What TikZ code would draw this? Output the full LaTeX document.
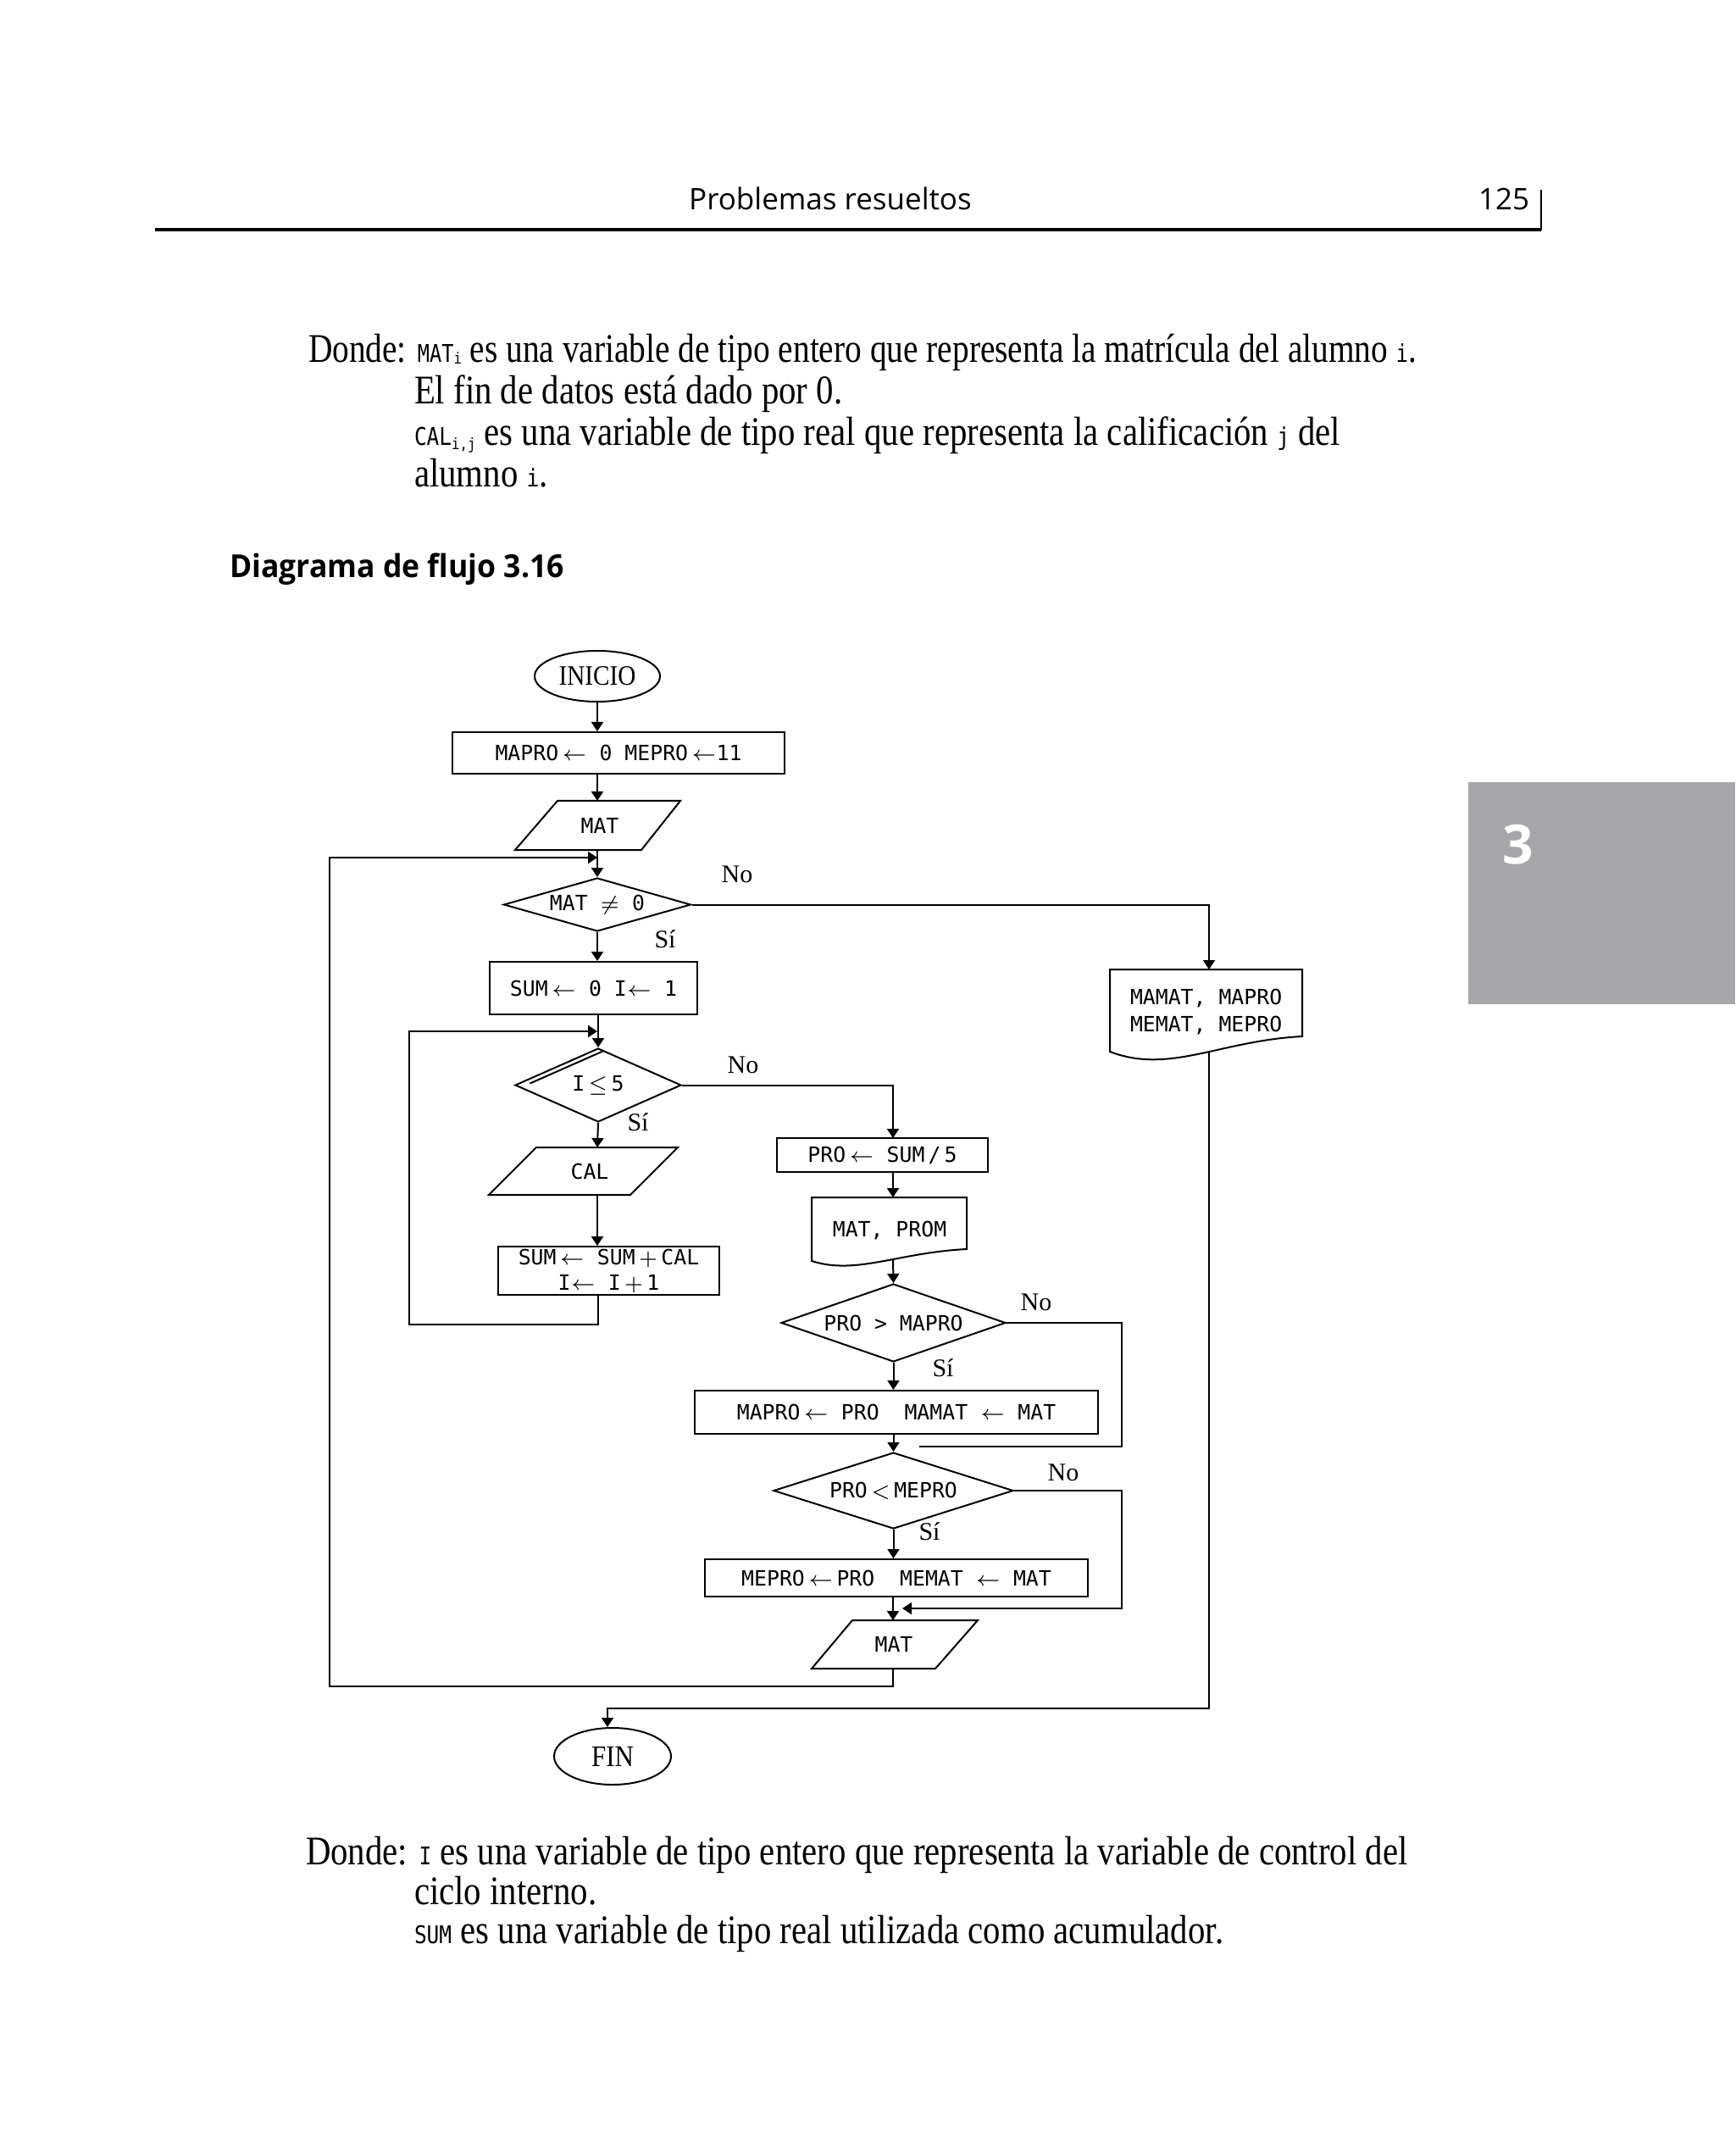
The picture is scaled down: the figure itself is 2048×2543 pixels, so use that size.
\documentclass[tikz,border=0pt]{standalone}
\usepackage{fontspec}
\setmainfont{Liberation Serif}
\newfontfamily\bodyf[FakeStretch=0.85]{Liberation Serif}
\newfontfamily\bodyfa[FakeStretch=0.82]{Liberation Serif}
\newfontfamily\bodyc[FakeStretch=0.85]{DejaVu Sans Mono}
\newfontfamily\bodyca[FakeStretch=0.82]{DejaVu Sans Mono}
\newfontfamily\fcf{DejaVu Sans Mono}
\newfontfamily\termf[FakeStretch=0.88]{Liberation Serif}
\newfontfamily\hdrf{Open Sans}
\newfontfamily\headf[FakeStretch=0.95]{Open Sans}
\usetikzlibrary{shapes.geometric,arrows.meta}
\definecolor{tabgray}{RGB}{167,167,170}
\newcommand\codet[1]{{\bodyc\fontsize{7.2}{8}\selectfont #1}}
\newcommand\codea[1]{{\bodyca\fontsize{7.2}{8}\selectfont #1}}
\newcommand\subx[2]{\raisebox{#1}{\bodyc\fontsize{4.6}{5}\selectfont #2}}
\begin{document}
\begin{tikzpicture}[x=0.25pt,y=-0.25pt,line width=0.5pt,
  arr/.style={-{Triangle[length=2.75pt,width=3.5pt]}},
  fcfont/.style={font=\fcf\fontsize{6.2}{7.5}\selectfont},
  box/.style={draw,rectangle,inner sep=0pt,fcfont},
  dec/.style={draw,diamond,inner sep=0pt,fcfont},
  term/.style={draw,ellipse,inner sep=0pt,font=\termf\fontsize{8.3}{9}\selectfont},
  lbl/.style={inner sep=0pt,font=\fontsize{7.5}{8}\selectfont},
  txt/.style={inner sep=0pt,fcfont},
  bodyt/.style={anchor=base west,inner sep=0pt,font=\bodyf\fontsize{12}{14}\selectfont}]
\useasboundingbox (0,0) rectangle (2048,2543);
\fill[white] (0,0) rectangle (2048,2543);

% page header
\node[anchor=base,inner sep=0pt,font=\hdrf\fontsize{8.75}{10}\selectfont] (hdr) at (980,248) {Problemas resueltos};
\node[anchor=base east,inner sep=0pt,font=\hdrf\fontsize{8.75}{10}\selectfont] (pg) at (1806,248) {125};
\draw[line width=0.8pt] (183,271) -- (1819,271);
\draw[line width=0.4pt] (1819,224) -- (1819,272);

% side tab
\fill[tabgray] (1733,923) rectangle (2048,1185);
\node[inner sep=0pt,text=white,font=\hdrf\bfseries\fontsize{16}{18}\selectfont] (tab) at (1792,997) {3};

% top text
\node[bodyt,font=\bodyfa\fontsize{12}{14}\selectfont] (t1) at (363,428) {Donde: \codea{MAT}\subx{-0.4pt}{i} es una variable de tipo entero que representa la matrícula del alumno \codea{i}.};
\node[bodyt] (t2) at (488,477) {El fin de datos está dado por 0.};
\node[bodyt] (t3) at (488,526) {\codet{CAL}\subx{-1.2pt}{i,j} es una variable de tipo real que representa la calificación \codet{j} del};
\node[bodyt] (t4) at (488,575) {alumno \codet{i}.};

\node[anchor=base west,inner sep=0pt,font=\headf\bfseries\fontsize{9.35}{11}\selectfont] (title) at (270,682) {Diagrama de flujo 3.16};

% ---------------- flowchart ----------------
\node[term,minimum width=37pt,minimum height=15pt] (inicio) at (705,798) {INICIO};
\node[box,minimum width=98pt,minimum height=12.25pt] (init) at (730,888.5) {MAPRO\,$\leftarrow$\ 0\ MEPRO\,$\leftarrow$11};

\coordinate (mat1t) at (705,945);
\coordinate (mat1b) at (705,1003);
\draw (658,945) -- (803,945) -- (757,1003) -- (608,1003) -- cycle;
\node[txt] (mat1) at (708,974) {MAT};

\node[dec,aspect=3.5,minimum width=55.25pt,minimum height=15.75pt] (d1) at (705,1067.5) {MAT $\neq$ 0};
\node[box,minimum width=61.25pt,minimum height=15.5pt] (sum0) at (700.5,1166) {SUM\,$\leftarrow$\ 0\ I$\leftarrow$\ 1};

\node[dec,aspect=2.25,minimum width=49pt,minimum height=21.75pt] (d2) at (706,1280.5) {I\,$\leq$\,5};
\draw (625.5,1278.5) -- (711.5,1240.5);

\coordinate (calt) at (705,1354);
\coordinate (calb) at (705,1410);
\draw (633,1354) -- (800,1354) -- (744,1410) -- (577,1410) -- cycle;
\node[txt] (cal) at (696,1382) {CAL};

\node[box,align=center,minimum width=65.25pt,minimum height=14.25pt] (upd) at (718.5,1499.5) {SUM\,$\leftarrow$\ SUM\,$+$\,CAL\\I$\leftarrow$\ I\,$+$\,1};

% right column
\node[box,minimum width=62.25pt,minimum height=10pt] (pro) at (1041.5,1363) {PRO\,$\leftarrow$\ SUM\,/\,5};
\coordinate (prot) at (1054,1343);

\coordinate (out1t) at (1054,1413);
\coordinate (out1b) at (1054,1486);
\draw (958,1413) -- (1141,1413) -- (1141,1474) .. controls (1060,1478) and (1010,1505) .. (958,1488) -- cycle;
\node[txt] (out1) at (1050,1452) {MAT, PROM};

\node[dec,aspect=2.88,minimum width=66.25pt,minimum height=23pt] (d3) at (1054.5,1561) {PRO > MAPRO};
\node[box,minimum width=119pt,minimum height=12.75pt] (upma) at (1058,1666.5) {MAPRO\,$\leftarrow$\ PRO\ \ MAMAT\ $\leftarrow$\ MAT};
\node[dec,aspect=3.14,minimum width=70.75pt,minimum height=22.5pt] (d4) at (1054.5,1759) {PRO\,$<$\,MEPRO};
\node[box,minimum width=113pt,minimum height=11pt] (upme) at (1058,1862) {MEPRO\,$\leftarrow$\,PRO\ \ MEMAT\ $\leftarrow$\ MAT};

\coordinate (mat2t) at (1054,1912);
\coordinate (mat2b) at (1054,1969);
\draw (1006,1912) -- (1154,1912) -- (1104,1969) -- (958,1969) -- cycle;
\node[txt] (mat2) at (1055,1940) {MAT};

% output document
\coordinate (out2t) at (1427,1144);
\coordinate (out2b) at (1427,1242);
\draw (1310,1144) -- (1537,1144) -- (1537,1223) .. controls (1440,1228) and (1380,1268) .. (1310,1241) -- cycle;
\node[txt,align=left,anchor=west,font=\fcf\fontsize{6.2}{8}\selectfont] (out2) at (1333,1194) {MAMAT,\ MAPRO\\MEMAT,\ MEPRO};

\node[term,minimum width=34.5pt,minimum height=16.75pt,font=\termf\fontsize{8.8}{9}\selectfont] (fin) at (723,2072.5) {FIN};

% labels
\node[lbl] (no1) at (870,1032) {No};
\node[lbl] (si1) at (785,1108) {Sí};
\node[lbl] (no2) at (877,1257) {No};
\node[lbl] (si2) at (753,1324) {Sí};
\node[lbl] (no3) at (1223,1537) {No};
\node[lbl] (si3) at (1113,1614) {Sí};
\node[lbl] (no4) at (1255,1738) {No};
\node[lbl] (si4) at (1097,1807) {Sí};

% junction coordinates
\coordinate (lpA) at (1054,1990);
\coordinate (lpB) at (389,1990);
\coordinate (lpC) at (389,1012);
\coordinate (lpD) at (705,1012);
\coordinate (ilA) at (706,1563);
\coordinate (ilB) at (483,1563);
\coordinate (ilC) at (483,1217);
\coordinate (ilD) at (705,1217);
\coordinate (r3a) at (1324,1561);
\coordinate (r3b) at (1324,1707);
\coordinate (r3c) at (1085,1707);
\coordinate (r4a) at (1324,1759);
\coordinate (r4b) at (1324,1898);
\coordinate (r4c) at (1065,1898);
\coordinate (fa) at (1427,2016);

% connectors
\draw[arr] (inicio.south) -- (inicio.south |- init.north);
\draw[arr] (init.south -| mat1t) -- (mat1t);
\draw[arr] (mat1b) -- (d1.north);
\draw[arr] (mat2b) -- (lpA) -- (lpB) -- (lpC) -- (lpD);
\draw[arr] (d1.east) -| (out2t);
\draw[arr] (d1.south) -- (d1.south |- sum0.north);
\draw[arr] (sum0.south -| d2.north) -- (d2.north);
\draw[arr] (upd.south -| ilA) -- (ilA) -- (ilB) -- (ilC) -- (ilD);
\draw[arr] (d2.east) -| (prot);
\draw[arr] (d2.south) -- (calt);
\draw[arr] (calb) -- (calb |- upd.north);
\draw[arr] (prot |- pro.south) -- (out1t);
\draw[arr] (out1b) -- (d3.north);
\draw (d3.east) -- (r3a) -- (r3b) -- (r3c);
\draw[arr] (d3.south) -- (d3.south |- upma.north);
\draw[arr] (upma.south -| d4.north) -- (d4.north);
\draw[arr] (d4.east) -- (r4a) -- (r4b) -- (r4c);
\draw[arr] (d4.south) -- (d4.south |- upme.north);
\draw[arr] (upme.south -| mat2t) -- (mat2t);
\draw[arr] (out2b) -- (fa) -| ([xshift=-1.5pt]fin.north);

% bottom text
\node[bodyt] (b1) at (360,2200) {Donde: \codet{I} es una variable de tipo entero que representa la variable de control del};
\node[bodyt] (b2) at (488,2247) {ciclo interno.};
\node[bodyt] (b3) at (488,2293) {\codet{SUM} es una variable de tipo real utilizada como acumulador.};
\end{tikzpicture}
\end{document}
